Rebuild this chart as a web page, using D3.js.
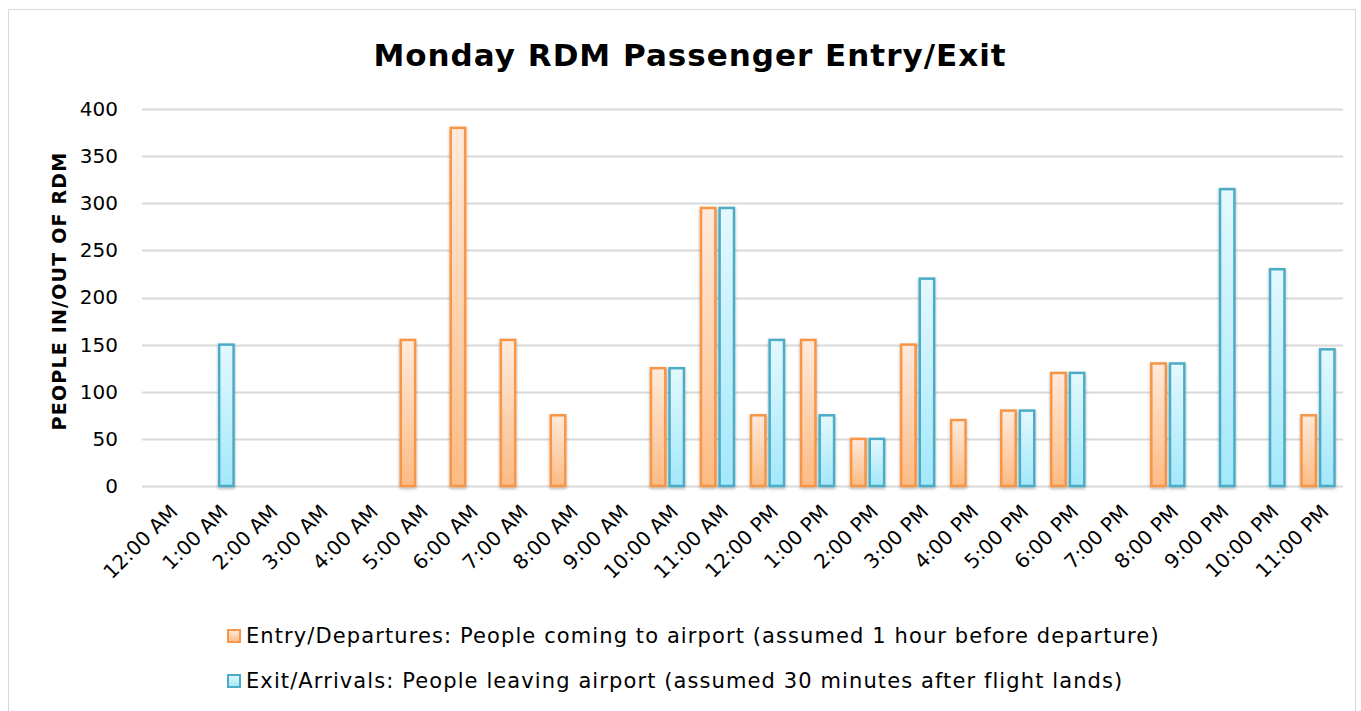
<!DOCTYPE html>
<html>
<head>
<meta charset="utf-8">
<script src="https://cdn.jsdelivr.net/npm/d3@7"></script>
<style>
  body { margin: 0; background: #fff; }
  text { font-family: "DejaVu Sans", "Noto Sans", sans-serif; fill: #000; }
</style>
</head>
<body>
<div id="chart"></div>
<script>
// Categories (hour of day)
var hours = ["12:00 AM", "1:00 AM", "2:00 AM", "3:00 AM", "4:00 AM", "5:00 AM",
  "6:00 AM", "7:00 AM", "8:00 AM", "9:00 AM", "10:00 AM", "11:00 AM",
  "12:00 PM", "1:00 PM", "2:00 PM", "3:00 PM", "4:00 PM", "5:00 PM",
  "6:00 PM", "7:00 PM", "8:00 PM", "9:00 PM", "10:00 PM", "11:00 PM"];

// Series values
var entry = [0, 0, 0, 0, 0, 155, 380, 155, 75, 0, 125, 295,
  75, 155, 50, 150, 70, 80, 120, 0, 130, 0, 0, 75];
var exit = [0, 150, 0, 0, 0, 0, 0, 0, 0, 0, 125, 295,
  155, 75, 50, 220, 0, 80, 120, 0, 130, 315, 230, 145];

var seriesNames = ["Entry/Departures: People coming to airport (assumed 1 hour before departure)",
  "Exit/Arrivals: People leaving airport (assumed 30 minutes after flight lands)"];
var yTicks = [0, 50, 100, 150, 200, 250, 300, 350, 400];

var w = 1361;
var h = 711;
var margin = { left: 142, right: 18, top: 109, bottom: 225 };
var font = "'DejaVu Sans', 'Noto Sans', sans-serif";

var svg = d3.select("#chart").append("svg")
  .attr("width", w)
  .attr("height", h);

// gradients and shadow
var defs = svg.append("defs");
var grads = [
  { id: "gOrange", top: "#ffeadc", bottom: "#fdbb84" },
  { id: "gBlue", top: "#e4f8fe", bottom: "#a3e8fb" }
];
grads.forEach(function (g) {
  var lg = defs.append("linearGradient").attr("id", g.id)
    .attr("x1", 0).attr("y1", 0).attr("x2", 0).attr("y2", 1);
  lg.append("stop").attr("offset", "0%").attr("stop-color", g.top);
  lg.append("stop").attr("offset", "100%").attr("stop-color", g.bottom);
});
var f = defs.append("filter").attr("id", "shadow")
  .attr("x", "-30%").attr("y", "-10%").attr("width", "160%").attr("height", "130%");
f.append("feDropShadow").attr("dx", 0).attr("dy", 1.5).attr("stdDeviation", 1.5)
  .attr("flood-color", "#000").attr("flood-opacity", 0.3);

var strokes = ["#f79646", "#4bacc6"];
var fills = ["url(#gOrange)", "url(#gBlue)"];

// outer border
svg.append("rect")
  .attr("x", 8.5).attr("y", 9.5)
  .attr("width", w - 14).attr("height", h - 8)
  .attr("fill", "none").attr("stroke", "#d9d9d9");

// scales
var x0 = d3.scaleBand()
  .domain(hours)
  .range([margin.left, w - margin.right])
  .paddingInner(0.3)
  .paddingOuter(0.15);

var x1 = d3.scaleBand()
  .domain([0, 1])
  .range([0, x0.bandwidth()])
  .paddingInner(0.12);

var y = d3.scaleLinear()
  .domain([0, 400])
  .range([h - margin.bottom, margin.top]);

// gridlines
svg.append("g")
  .selectAll("line")
  .data(yTicks)
  .enter()
  .append("line")
  .attr("x1", margin.left)
  .attr("x2", w - margin.right)
  .attr("y1", function (d) { return Math.round(y(d)) + 0.5; })
  .attr("y2", function (d) { return Math.round(y(d)) + 0.5; })
  .attr("stroke", "#d9d9d9")
  .attr("stroke-width", 2);

// y axis labels
var yAxis = d3.axisLeft(y).tickValues(yTicks).tickSize(0).tickPadding(24);
var yg = svg.append("g")
  .attr("transform", "translate(" + margin.left + ",0)")
  .call(yAxis);
yg.select(".domain").remove();
yg.selectAll("text")
  .style("font-family", font)
  .style("font-size", "20px")
  .attr("fill", "#000");

// bars
var data = hours.map(function (hr, i) { return { hour: hr, vals: [entry[i], exit[i]] }; });

var groups = svg.append("g")
  .selectAll("g")
  .data(data)
  .enter()
  .append("g")
  .attr("transform", function (d) { return "translate(" + x0(d.hour) + ",0)"; });

groups.selectAll("rect")
  .data(function (d) {
    return d.vals.map(function (v, s) { return { s: s, v: v }; }).filter(function (e) { return e.v > 0; });
  })
  .enter()
  .append("rect")
  .attr("x", function (d) { return x1(d.s) + 1; })
  .attr("y", function (d) { return y(d.v); })
  .attr("width", x1.bandwidth() - 2)
  .attr("height", function (d) { return y(0) - y(d.v); })
  .attr("fill", function (d) { return fills[d.s]; })
  .attr("stroke", function (d) { return strokes[d.s]; })
  .attr("stroke-width", 2.5)
  .attr("filter", "url(#shadow)");

// x axis labels
var xAxis = d3.axisBottom(x0).tickSize(0).tickPadding(0);
var xg = svg.append("g")
  .attr("transform", "translate(0," + (h - margin.bottom) + ")")
  .call(xAxis);
xg.select(".domain").remove();
xg.selectAll("text")
  .style("font-family", font)
  .style("font-size", "20px")
  .attr("fill", "#000")
  .attr("text-anchor", "end")
  .attr("dy", "0.35em")
  .attr("transform", "translate(7,22) rotate(-45)");

// title
svg.append("text")
  .attr("x", 690)
  .attr("y", 66)
  .attr("text-anchor", "middle")
  .style("font-size", "31px")
  .style("font-weight", "bold")
  .style("letter-spacing", "1px")
  .text("Monday RDM Passenger Entry/Exit");

// y axis title
svg.append("text")
  .attr("transform", "translate(66,291) rotate(-90)")
  .attr("text-anchor", "middle")
  .style("font-size", "19px")
  .style("font-weight", "bold")
  .style("letter-spacing", "1.2px")
  .text("PEOPLE IN/OUT OF RDM");

// legend
var legend = svg.append("g")
  .selectAll("g")
  .data(seriesNames)
  .enter()
  .append("g")
  .attr("transform", function (d, i) { return "translate(228," + (636 + i * 45) + ")"; });

legend.append("rect")
  .attr("x", 0).attr("y", -6)
  .attr("width", 12).attr("height", 12)
  .attr("fill", function (d, i) { return fills[i]; })
  .attr("stroke", function (d, i) { return strokes[i]; })
  .attr("stroke-width", 2);

legend.append("text")
  .attr("x", 18)
  .attr("y", 0)
  .attr("dy", "0.35em")
  .style("font-size", "21px")
  .style("letter-spacing", "1.1px")
  .text(function (d) { return d; });
</script>
</body>
</html>
